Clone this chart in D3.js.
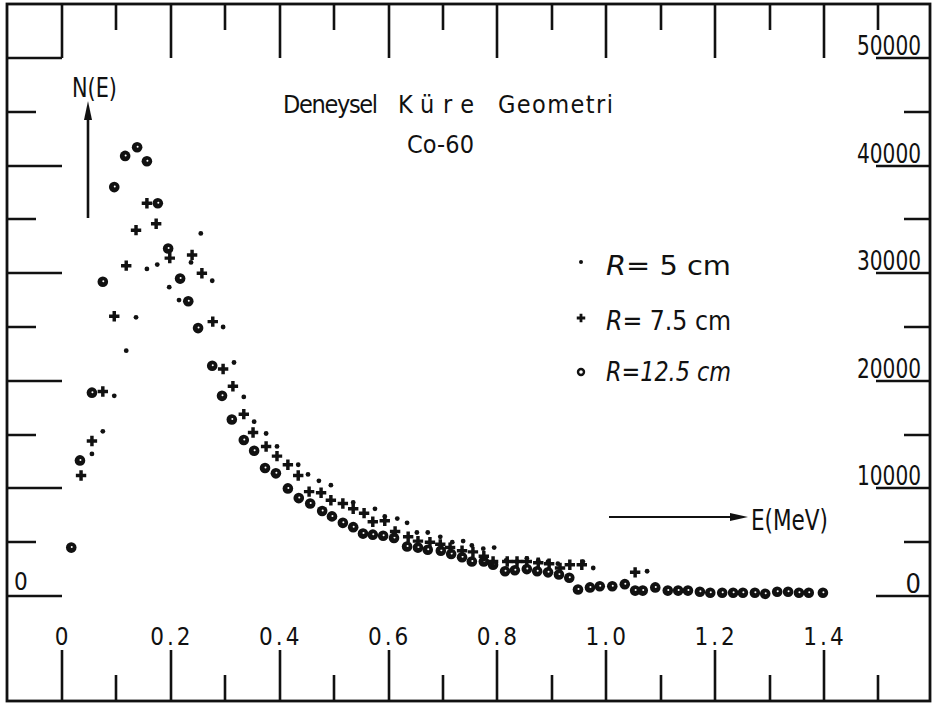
<!DOCTYPE html>
<html><head><meta charset="utf-8">
<script src="https://cdn.jsdelivr.net/npm/d3@7"></script>
<style>
html,body{margin:0;padding:0;background:#fff;}
#wrap{position:relative;width:932px;height:709px;overflow:hidden;}
#c{display:block;position:absolute;left:0;top:0;}
.tk{position:absolute;background:#111;}
text{font-family:"DejaVu Sans Condensed","DejaVu Sans",sans-serif;fill:#111;}
</style></head><body>
<div id="wrap">
<svg id="c" width="932" height="709"></svg>
</div>
<script>
// ---- data ----
const xMajorTicks = [0, 0.2, 0.4, 0.6, 0.8, 1.0, 1.2, 1.4];
const xMinorTicks = [0.1, 0.3, 0.5, 0.7, 0.9, 1.1, 1.3, 1.5];
const xTickLabels = ["0", "0.2", "0.4", "0.6", "0.8", "1.0", "1.2", "1.4"];
const yMajorTicks = [0, 10000, 20000, 30000, 40000, 50000];
const yMinorTicks = [5000, 15000, 25000, 35000, 45000];
const yTickLabels = ["0", "10000", "20000", "30000", "40000", "50000"];

const seriesNames = ["R=  5  cm", "R=  7.5 cm", "R=12.5 cm"];

// R = 5 cm (dots)
const r5E = [0.055,0.075,0.096,0.118,0.136,0.156,0.175,0.197,0.215,0.237,0.255,0.276,0.296,0.316,0.334,0.353,0.375,0.395,0.434,0.452,0.472,0.494,0.535,0.575,0.593,0.616,0.634,0.652,0.672,0.695,0.717,0.737,0.753,0.774,0.794,0.816,0.836,0.854,0.875,0.893,0.911,0.957,0.976,1.075];
const r5N = [13200,15300,18600,22800,25900,30400,30800,28700,27500,31000,33700,29300,25000,21700,18500,16200,15100,13900,12200,11300,10700,10300,8700,8100,7400,7200,6800,5900,5900,5500,5000,5100,4700,4400,4500,3300,3200,3500,3300,3200,3000,3200,2600,2300];

// R = 7.5 cm (plus)
const r75E = [0.035,0.055,0.075,0.096,0.118,0.136,0.156,0.173,0.198,0.239,0.257,0.277,0.296,0.314,0.334,0.351,0.375,0.395,0.415,0.434,0.454,0.476,0.494,0.516,0.535,0.555,0.571,0.593,0.612,0.636,0.654,0.676,0.695,0.713,0.735,0.755,0.775,0.792,0.818,0.836,0.854,0.875,0.895,0.915,0.933,0.955,1.053];
const r75N = [11200,14400,19000,26000,30700,34000,36500,34600,31400,31700,30000,25500,21100,19500,16900,15200,13900,13000,12200,11200,9700,9600,8900,8600,8100,7700,6900,7000,6000,5500,5100,5000,4800,4500,4200,4100,3700,3200,3200,3200,3200,3100,3000,2600,2900,2900,2200];

// R = 12.5 cm (circles)
const r125E = [0.017,0.033,0.055,0.075,0.096,0.116,0.138,0.156,0.176,0.195,0.217,0.232,0.250,0.276,0.294,0.312,0.334,0.353,0.373,0.393,0.415,0.435,0.456,0.478,0.496,0.516,0.535,0.553,0.571,0.590,0.610,0.634,0.654,0.672,0.696,0.715,0.735,0.753,0.775,0.792,0.814,0.832,0.854,0.873,0.893,0.913,0.932,0.948,0.970,0.988,1.011,1.034,1.053,1.067,1.090,1.113,1.132,1.150,1.172,1.191,1.213,1.233,1.251,1.273,1.292,1.314,1.334,1.354,1.372,1.398];
const r125N = [4500,12600,18900,29200,38000,40900,41700,40400,36500,32300,29500,27400,24900,21400,18600,16400,14500,13500,11900,11400,10000,9100,8600,7900,7400,6800,6400,5800,5700,5600,5400,4600,4500,4300,4200,3900,3600,3200,3200,2900,2300,2400,2500,2300,2200,2000,1700,600,800,900,900,1100,500,500,800,500,500,500,400,300,300,300,300,300,200,400,400,300,300,300];

// ---- drawing ----
const ink = "#111";
const svg = d3.select("#c");
const wrap = d3.select("#wrap");
const frame = {left: 7, right: 930, top: 4, bottom: 701};

const xs = d3.scaleLinear().domain([0, 1.4]).range([62, 824]);
const ys = d3.scaleLinear().domain([0, 50000]).range([596, 58]);

// frame
svg.append("rect")
  .attr("x", frame.left).attr("y", frame.top)
  .attr("width", frame.right - frame.left).attr("height", frame.bottom - frame.top)
  .attr("fill", "none").attr("stroke", ink).attr("stroke-width", 2.8);

// horizontal ticks (svg)
let hPath = "";
yMajorTicks.forEach(v => { const p = Math.round(ys(v)); hPath += `M${frame.left},${p}H62M${frame.right},${p}H876`; });
yMinorTicks.forEach(v => { const p = Math.round(ys(v)); hPath += `M${frame.left},${p}H36M${frame.right},${p}H904`; });
svg.append("path").attr("d", hPath).attr("stroke", ink).attr("stroke-width", 2.6).attr("fill", "none");

// vertical ticks (svg path + html overlay, both placed by the x scale)
const vTickSpecs = [];
xMajorTicks.forEach(v => { vTickSpecs.push({v, y0: 650, y1: frame.bottom}); vTickSpecs.push({v, y0: frame.top, y1: 58}); });
xMinorTicks.forEach(v => { vTickSpecs.push({v, y0: 675, y1: frame.bottom}); vTickSpecs.push({v, y0: frame.top, y1: 30}); });
let vPath = "";
vTickSpecs.forEach(s => { const p = Math.round(xs(s.v)); vPath += `M${p},${s.y0}V${s.y1}`; });
svg.append("path").attr("d", vPath).attr("stroke", ink).attr("stroke-width", 2.6).attr("fill", "none");
wrap.selectAll("div.tk").data(vTickSpecs).join("div").attr("class", "tk")
  .style("left", s => (Math.round(xs(s.v)) - 1.3) + "px")
  .style("top", s => s.y0 + "px")
  .style("width", "2.6px")
  .style("height", s => (s.y1 - s.y0) + "px");

// bottom labels
xMajorTicks.forEach((v, i) => {
  svg.append("text").attr("x", xs(v) + 1).attr("y", 645)
    .attr("text-anchor", "middle").attr("font-size", 24)
    .attr("letter-spacing", 3).text(xTickLabels[i]);
});

// right labels (sitting on their tick lines)
yMajorTicks.forEach((v, i) => {
  const t = svg.append("text").attr("x", 921).attr("y", ys(v) - 3)
    .attr("text-anchor", "end").attr("font-size", 27).text(yTickLabels[i]);
  if (yTickLabels[i].length > 1) t.attr("textLength", 64).attr("lengthAdjust", "spacingAndGlyphs");
});

// left "0"
svg.append("text").attr("x", 14).attr("y", ys(0) - 6).attr("font-size", 24).text(yTickLabels[0]);

// axis titles & arrows
svg.append("text").attr("x", 72).attr("y", 97).attr("font-size", 27)
  .attr("textLength", 45).attr("lengthAdjust", "spacingAndGlyphs").text("N(E)");
svg.append("path").attr("d", "M88,218V112").attr("stroke", ink).attr("stroke-width", 2.6);
svg.append("path").attr("d", "M88,101 L84,120 L92,120 Z").attr("fill", ink);

svg.append("path").attr("d", "M609,517H736").attr("stroke", ink).attr("stroke-width", 2.2);
svg.append("path").attr("d", "M748,517 L730,513 L730,521 Z").attr("fill", ink);
svg.append("text").attr("x", 751).attr("y", 530).attr("font-size", 28)
  .attr("textLength", 77).attr("lengthAdjust", "spacingAndGlyphs").text("E(MeV)");

// title
const titleParts = [
  {t: "Deneysel", x0: 283, w: 95, y: 113},
  {t: "Küre", x0: 398, w: 76, y: 113},
  {t: "Geometri", x0: 498, w: 115, y: 113},
  {t: "Co-60", x0: 407, w: 67, y: 153}
];
titleParts.forEach(d => {
  svg.append("text").attr("x", d.x0).attr("y", d.y).attr("font-size", 25)
    .attr("textLength", d.w).attr("lengthAdjust", "spacing").text(d.t);
});

// markers
const plusPath = d3.symbol(d3.symbolCross, 60)();
r125E.forEach((e, i) => {
  const cx = xs(e), cy = ys(r125N[i]);
  svg.append("circle").attr("cx", cx).attr("cy", cy).attr("r", 5.3).attr("fill", ink);
  svg.append("circle").attr("cx", cx + 0.5).attr("cy", cy - 0.5).attr("r", 1).attr("fill", "#fff");
});
r75E.forEach((e, i) => {
  svg.append("path").attr("d", plusPath)
    .attr("transform", `translate(${xs(e)},${ys(r75N[i])})`).attr("fill", ink);
});
r5E.forEach((e, i) => {
  svg.append("circle").attr("cx", xs(e)).attr("cy", ys(r5N[i])).attr("r", 2.4).attr("fill", ink);
});

// legend
const legY = [262, 318, 372];
const legBase = [275, 330, 381];
svg.append("circle").attr("cx", 581).attr("cy", legY[0]).attr("r", 2).attr("fill", ink);
svg.append("path").attr("d", d3.symbol(d3.symbolCross, 40)()).attr("transform", `translate(581,${legY[1]})`).attr("fill", ink);
svg.append("circle").attr("cx", 581).attr("cy", legY[2]).attr("r", 3).attr("fill", "#fff").attr("stroke", ink).attr("stroke-width", 2.4);
seriesNames.forEach((name, i) => {
  const t = svg.append("text").attr("x", 606).attr("y", legBase[i]).attr("font-size", 27)
    .attr("textLength", 125).attr("lengthAdjust", "spacingAndGlyphs");
  t.append("tspan").attr("font-style", "italic").text(name.slice(0, 1));
  t.append("tspan").attr("font-style", i === 2 ? "italic" : "normal").text(name.slice(1));
});
</script></body></html>
